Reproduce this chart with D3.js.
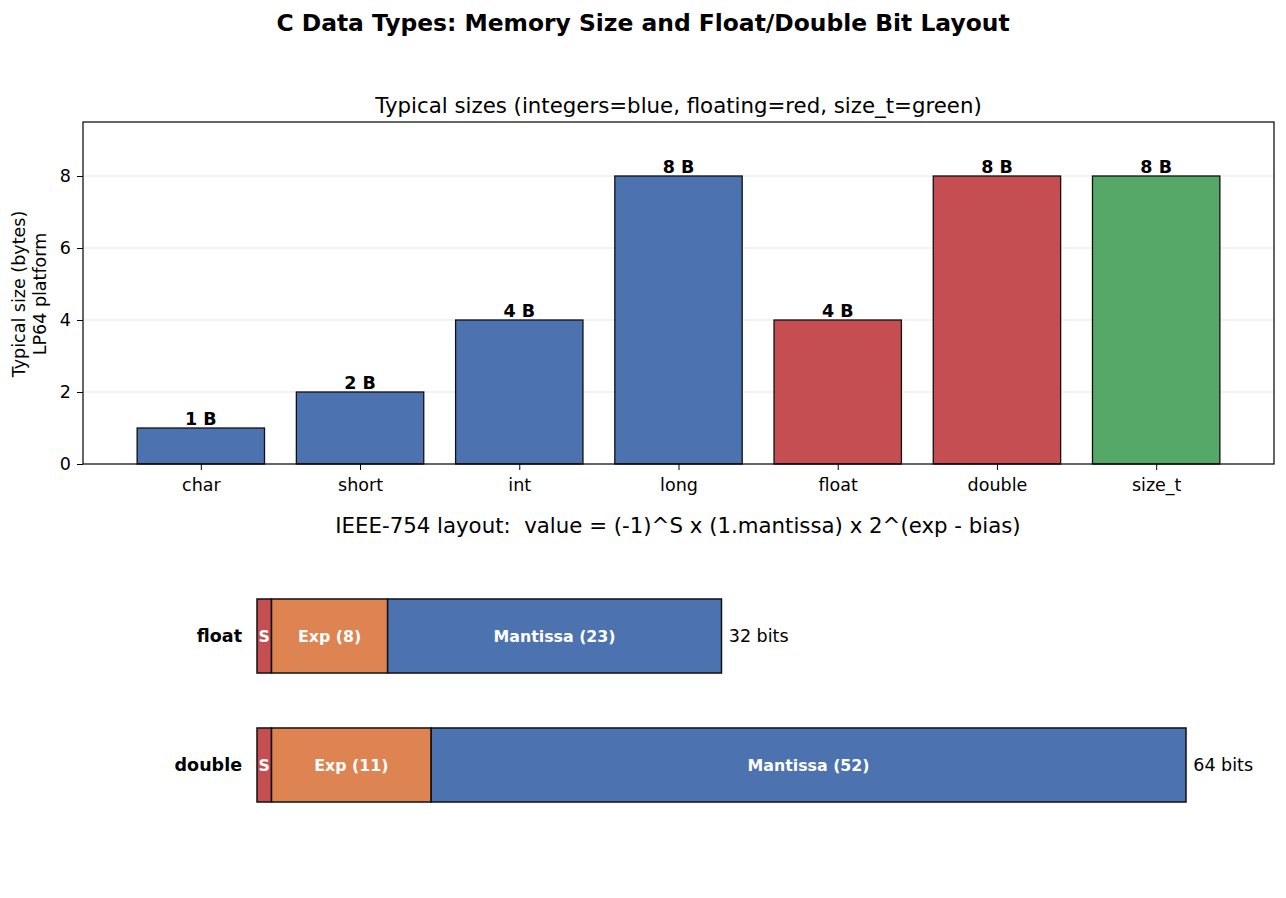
<!DOCTYPE html>
<html>
<head>
<meta charset="utf-8">
<script src="https://cdn.jsdelivr.net/npm/d3@7"></script>
<style>
  body { margin: 0; background: #fff; }
  svg { font-family: "DejaVu Sans", sans-serif; }
</style>
</head>
<body>
<div id="chart"></div>
<script>
'use strict';
// data
const typeNames = ['char', 'short', 'int', 'long', 'float', 'double', 'size_t'];
const typeSizes = [1, 2, 4, 8, 4, 8, 8];
const typeKinds = ['int', 'int', 'int', 'int', 'float', 'float', 'size'];
const yTicks = [0, 2, 4, 6, 8];

const layoutNames = ['float', 'double'];
const signBits = [1, 1];
const expBits = [8, 11];
const mantBits = [23, 52];
const totalBits = [32, 64];

const kindColor = { int: '#4c72b0', float: '#c44e52', size: '#55a868' };
const partColor = { S: '#c44e52', Exp: '#dd8452', Mantissa: '#4c72b0' };

const W = 1286, H = 898;
const svg = d3.select('#chart').append('svg')
    .attr('width', W).attr('height', H);

svg.append('text')
    .attr('x', 643).attr('y', 31)
    .attr('text-anchor', 'middle')
    .attr('font-size', 23.4).attr('font-weight', 'bold')
    .text('C Data Types: Memory Size and Float/Double Bit Layout');

// ---- top panel: sizes ----
const box = { left: 83, right: 1274, top: 122, bottom: 464 };
const x = d3.scaleLinear().domain([-0.74, 6.74]).range([box.left, box.right]);
const y = d3.scaleLinear().domain([0, 9.5]).range([box.bottom, box.top]);
const barW = x(0.8) - x(0);

const g = svg.append('g');

g.selectAll('.grid').data(yTicks.slice(1)).enter()
    .append('line')
    .attr('x1', box.left).attr('x2', box.right)
    .attr('y1', d => y(d)).attr('y2', d => y(d))
    .attr('stroke', '#e5e5e5').attr('stroke-width', 1);

g.selectAll('.bar').data(typeNames).enter()
    .append('rect')
    .attr('x', (d, i) => x(i) - barW / 2)
    .attr('y', (d, i) => y(typeSizes[i]))
    .attr('width', barW)
    .attr('height', (d, i) => y(0) - y(typeSizes[i]))
    .attr('fill', (d, i) => kindColor[typeKinds[i]])
    .attr('stroke', '#111').attr('stroke-width', 1.3);

g.selectAll('.val').data(typeNames).enter()
    .append('text')
    .attr('x', (d, i) => x(i))
    .attr('y', (d, i) => y(typeSizes[i]) - 3)
    .attr('text-anchor', 'middle')
    .attr('font-size', 17.5).attr('font-weight', 'bold')
    .text((d, i) => typeSizes[i] + ' B');

g.append('rect')
    .attr('x', box.left).attr('y', box.top)
    .attr('width', box.right - box.left).attr('height', box.bottom - box.top)
    .attr('fill', 'none').attr('stroke', '#000').attr('stroke-width', 1.2);

const yAxis = g.append('g')
    .attr('transform', 'translate(' + box.left + ',0)')
    .call(d3.axisLeft(y).tickValues(yTicks).tickSize(6).tickPadding(6));
const xAxis = g.append('g')
    .attr('transform', 'translate(0,' + box.bottom + ')')
    .call(d3.axisBottom(x).tickValues(d3.range(typeNames.length))
        .tickFormat(i => typeNames[i]).tickSize(6).tickPadding(9));
[yAxis, xAxis].forEach(a => {
    a.select('.domain').remove();
    a.selectAll('text').attr('font-size', 17.5).attr('fill', '#000')
        .attr('font-family', '"DejaVu Sans", sans-serif');
    a.selectAll('line').attr('stroke', '#000');
});

svg.append('text')
    .attr('transform', 'translate(25,294) rotate(-90)')
    .attr('text-anchor', 'middle').attr('font-size', 17.5)
    .text('Typical size (bytes)');
svg.append('text')
    .attr('transform', 'translate(46,294) rotate(-90)')
    .attr('text-anchor', 'middle').attr('font-size', 17.5)
    .text('LP64 platform');

svg.append('text')
    .attr('x', (box.left + box.right) / 2).attr('y', 113)
    .attr('text-anchor', 'middle').attr('font-size', 21.3)
    .text('Typical sizes (integers=blue, floating=red, size_t=green)');

// ---- bottom panel: bit layout ----
svg.append('text')
    .attr('x', 678).attr('y', 533)
    .attr('text-anchor', 'middle').attr('font-size', 21.3)
    .attr('xml:space', 'preserve')
    .style('white-space', 'pre')
    .text('IEEE-754 layout:  value = (-1)^S x (1.mantissa) x 2^(exp - bias)');

const bx = d3.scaleLinear().domain([0, 64]).range([257, 1186]);
const by = d3.scaleBand().domain(layoutNames).range([534.5, 866.5])
    .paddingInner(0.426).paddingOuter(0.5);

const segs = [];
layoutNames.forEach((name, i) => {
    segs.push({ row: name, start: 0, bits: signBits[i], part: 'S', label: 'S' });
    segs.push({ row: name, start: signBits[i], bits: expBits[i], part: 'Exp', label: 'Exp (' + expBits[i] + ')' });
    segs.push({ row: name, start: signBits[i] + expBits[i], bits: mantBits[i], part: 'Mantissa', label: 'Mantissa (' + mantBits[i] + ')' });
});

const bg = svg.append('g');
bg.selectAll('.seg').data(segs).enter()
    .append('rect')
    .attr('x', d => bx(d.start))
    .attr('y', d => by(d.row))
    .attr('width', d => bx(d.start + d.bits) - bx(d.start))
    .attr('height', by.bandwidth())
    .attr('fill', d => partColor[d.part])
    .attr('stroke', '#111').attr('stroke-width', 1.5);

bg.selectAll('.segl').data(segs).enter()
    .append('text')
    .attr('x', d => bx(d.start + d.bits / 2))
    .attr('y', d => by(d.row) + by.bandwidth() / 2)
    .attr('dy', '0.35em')
    .attr('text-anchor', 'middle')
    .attr('font-size', 15.8).attr('font-weight', 'bold')
    .attr('fill', '#fff')
    .text(d => d.label);

bg.selectAll('.rowl').data(layoutNames).enter()
    .append('text')
    .attr('x', bx(0) - 15)
    .attr('y', d => by(d) + by.bandwidth() / 2)
    .attr('dy', '0.35em')
    .attr('text-anchor', 'end')
    .attr('font-size', 17.5).attr('font-weight', 'bold')
    .text(d => d);

bg.selectAll('.totl').data(layoutNames).enter()
    .append('text')
    .attr('x', (d, i) => bx(totalBits[i] + 0.5))
    .attr('y', d => by(d) + by.bandwidth() / 2)
    .attr('dy', '0.35em')
    .attr('font-size', 17.5)
    .text((d, i) => totalBits[i] + ' bits');
</script>
</body>
</html>
